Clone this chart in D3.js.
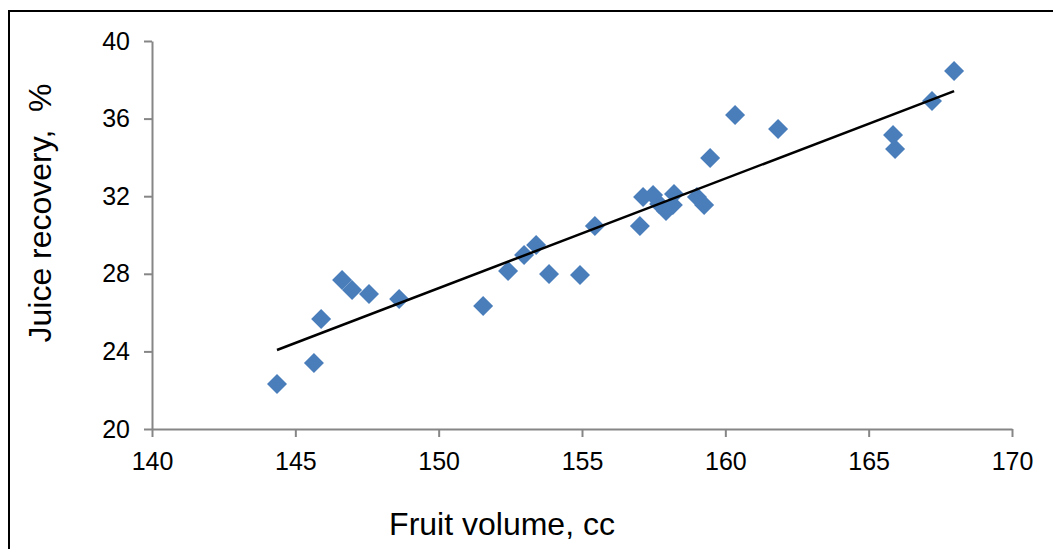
<!DOCTYPE html>
<html>
<head>
<meta charset="utf-8">
<script src="https://cdn.jsdelivr.net/npm/d3@7"></script>
<style>
  body { margin: 0; background: #fff; }
  svg { display: block; font-family: "Liberation Sans", Arial, sans-serif; }
</style>
</head>
<body>
<svg id="chart" width="1053" height="549"></svg>
<script>
// fruit volume (cc) and juice recovery (%)
var fruitVolume = [144.36, 145.65, 145.90, 146.63, 146.98, 147.57, 148.62, 151.55, 152.42, 152.98,
                   153.40, 153.85, 154.93, 155.45, 157.02, 157.13, 157.48, 157.69, 157.93, 158.17,
                   158.21, 159.01, 159.26, 159.47, 160.34, 161.84, 165.85, 165.92, 167.21, 167.98];
var juiceRecovery = [22.32, 23.40, 25.67, 27.68, 27.16, 26.96, 26.70, 26.34, 28.14, 28.97,
                     29.48, 27.99, 27.94, 30.46, 30.46, 31.96, 32.06, 31.60, 31.24, 31.55,
                     32.11, 31.96, 31.55, 33.97, 36.19, 35.46, 35.15, 34.43, 36.91, 38.45];
var xTicks = [140, 145, 150, 155, 160, 165, 170];
var yTicks = [20, 24, 28, 32, 36, 40];

var svg = d3.select("#chart");

// outer frame (only top and left edges fall inside the picture)
svg.append("rect")
  .attr("x", 9).attr("y", 11)
  .attr("width", 1100).attr("height", 600)
  .style("fill", "none").style("stroke", "#000").style("stroke-width", 2);

var x = d3.scaleLinear().domain([140, 170]).range([152, 1012]);
var y = d3.scaleLinear().domain([20, 40]).range([429, 41]);

var axisColor = "#868686";

var gx = svg.append("g")
  .attr("transform", "translate(0,429)")
  .call(d3.axisBottom(x).tickValues(xTicks).tickSize(8).tickPadding(15).tickSizeOuter(0));
var gy = svg.append("g")
  .attr("transform", "translate(152,0)")
  .call(d3.axisLeft(y).tickValues(yTicks).tickSize(8).tickPadding(14).tickSizeOuter(0));

[gx, gy].forEach(function(g){
  g.select(".domain").style("stroke", axisColor).style("stroke-width", 2);
  g.selectAll(".tick line").style("stroke", axisColor).style("stroke-width", 2);
  g.selectAll(".tick text")
    .style("fill", "#000")
    .style("font-size", "25px")
    .style("font-family", "Liberation Sans, Arial, sans-serif");
});

// scatter points as diamonds
var points = fruitVolume.map(function(v, i){ return {x: v, y: juiceRecovery[i]}; });
var r = 10;
svg.append("g").selectAll("path")
  .data(points)
  .enter()
  .append("path")
    .attr("d", function(d){
      var cx = x(d.x), cy = y(d.y);
      return "M" + cx + "," + (cy - r) + "L" + (cx + r) + "," + cy +
             "L" + cx + "," + (cy + r) + "L" + (cx - r) + "," + cy + "Z";
    })
    .style("fill", "#4a7ebb");

// least squares trend line
var mx = d3.mean(fruitVolume), my = d3.mean(juiceRecovery);
var sxy = d3.sum(points, function(d){ return (d.x - mx) * (d.y - my); });
var sxx = d3.sum(points, function(d){ return (d.x - mx) * (d.x - mx); });
var slope = sxy / sxx, intercept = my - slope * mx;
var xExt = d3.extent(fruitVolume);
svg.append("line")
  .attr("x1", x(xExt[0])).attr("y1", y(intercept + slope * xExt[0]))
  .attr("x2", x(xExt[1])).attr("y2", y(intercept + slope * xExt[1]))
  .style("stroke", "#000").style("stroke-width", 2.5);

// axis titles
svg.append("text")
  .attr("x", 502).attr("y", 535)
  .attr("text-anchor", "middle")
  .style("font-size", "32px")
  .text("Fruit volume, cc");

svg.append("text")
  .attr("transform", "translate(51,213) rotate(-90)")
  .attr("text-anchor", "middle")
  .style("font-size", "32px")
  .style("white-space", "pre")
  .text("Juice recovery,  %");
</script>
</body>
</html>
